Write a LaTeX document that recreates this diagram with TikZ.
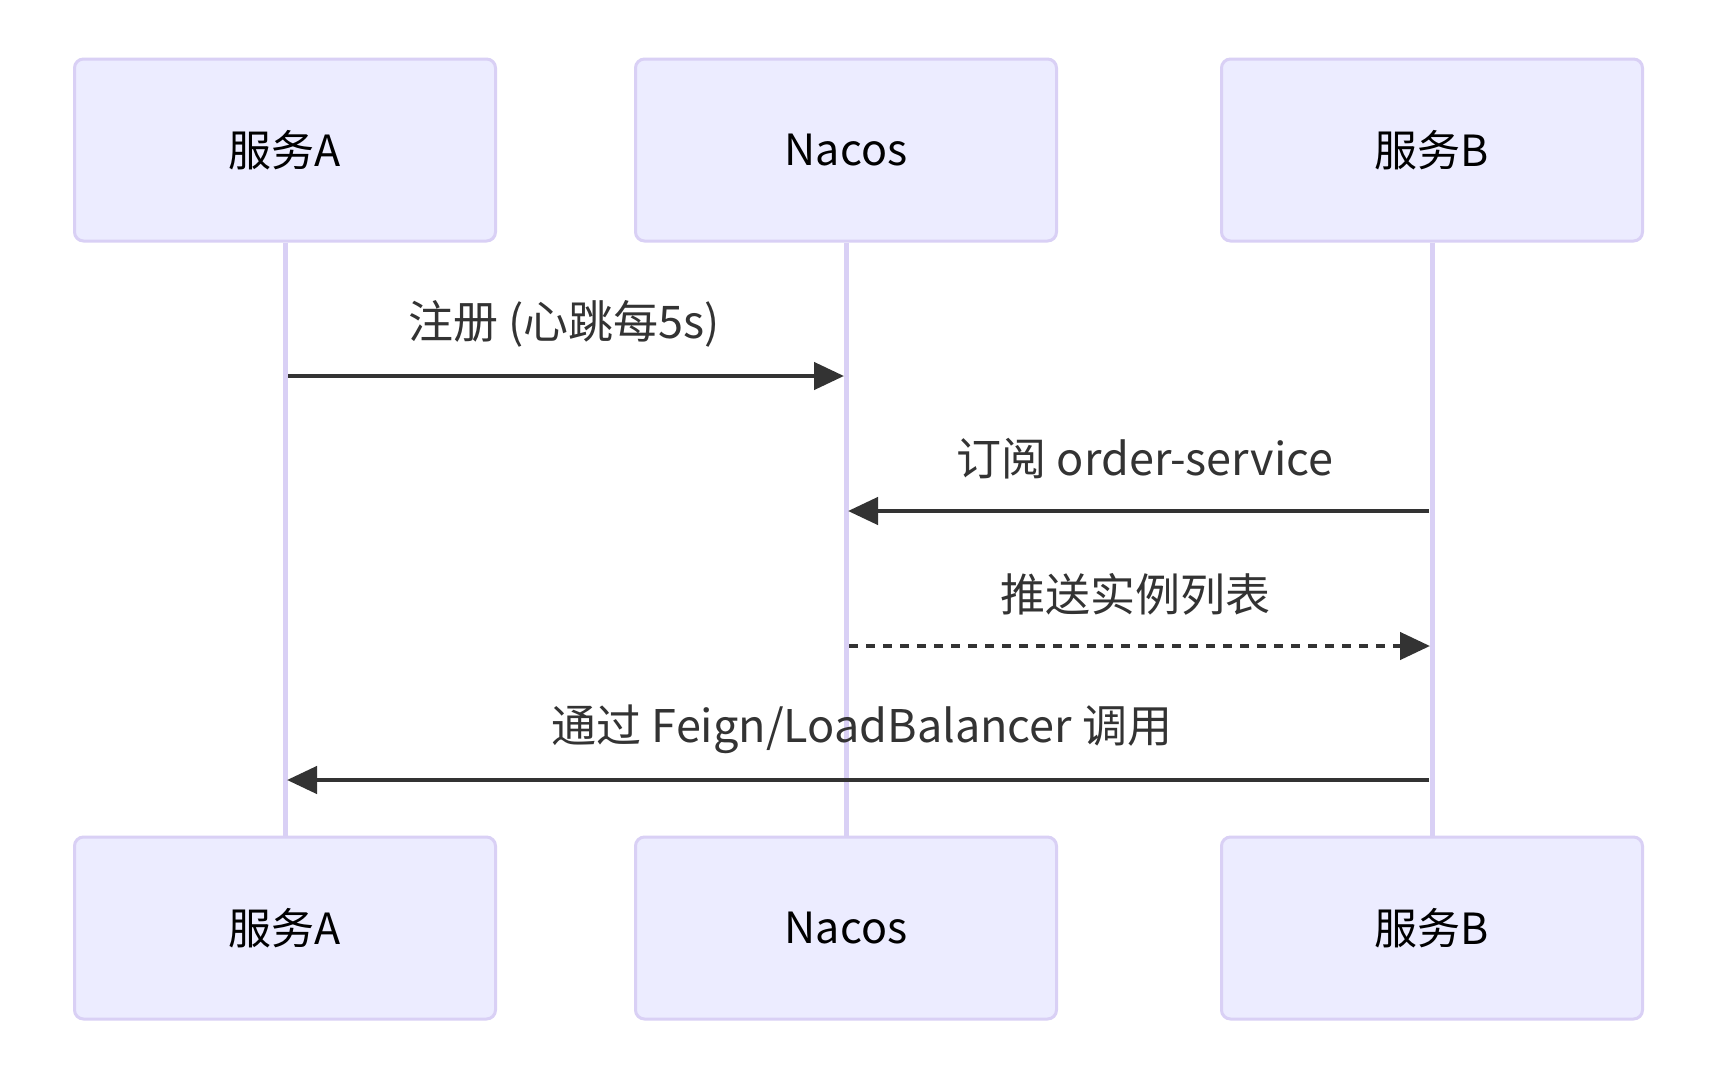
\documentclass[tikz,border=0pt]{standalone}
\usepackage{fontspec}
\setmainfont{Noto Sans CJK SC}
\usetikzlibrary{arrows.meta}
\definecolor{actfill}{HTML}{ECECFF}
\definecolor{actline}{HTML}{D9D0F5}
\definecolor{msgline}{HTML}{333333}
\tikzset{
  actor/.style={draw=actline, fill=actfill, line width=3pt, rounded corners=9pt,
    minimum width=421pt, minimum height=182pt, inner sep=0pt,
    font=\fontsize{43pt}{50pt}\selectfont, text=black},
  life/.style={draw=actline, line width=5pt},
  msg/.style={draw=msgline, line width=4.5pt, -{Triangle[length=30pt,width=27pt]}},
  dotmsg/.style={msg, dash pattern=on 9pt off 8pt},
  lbl/.style={font=\fontsize{45pt}{52pt}\selectfont, text=msgline, inner sep=0pt}
}
\begin{document}
\begin{tikzpicture}[x=1pt,y=-1pt]
\useasboundingbox (0,0) rectangle (1733,1087);
\fill[white] (0,0) rectangle (1733,1087);
% top actors
\node[actor] (a1) at (285,150) {服务A};
\node[actor] (n1) at (846,150) {Nacos};
\node[actor] (b1) at (1432,150) {服务B};
% bottom actors
\node[actor] (a2) at (285,928) {服务A};
\node[actor] (n2) at (846,928) {Nacos};
\node[actor] (b2) at (1432,928) {服务B};
% lifelines
\draw[life] (a1.south) -- (a2.north);
\draw[life] (n1.south) -- (n2.north);
\draw[life] (b1.south) -- (b2.north);
% messages
\coordinate (m1s) at (a1.south |- 0,376);
\coordinate (m1e) at (n1.south |- 0,376);
\draw[msg] ([xshift=3pt]m1s) -- ([xshift=-2pt]m1e);
\node[lbl] (l1) at (564,324) {注册 (心跳每5s)};

\coordinate (m2s) at (b1.south |- 0,511);
\coordinate (m2e) at (n1.south |- 0,511);
\draw[msg] ([xshift=-3pt]m2s) -- ([xshift=2pt]m2e);
\node[lbl] (l2) at (1145,459) {订阅 order-service};

\coordinate (m3s) at (n1.south |- 0,646);
\coordinate (m3e) at (b1.south |- 0,646);
\draw[dotmsg] ([xshift=3pt]m3s) -- ([xshift=-2pt]m3e);
\node[lbl] (l3) at (1135,594) {推送实例列表};

\coordinate (m4s) at (b1.south |- 0,780);
\coordinate (m4e) at (a1.south |- 0,780);
\draw[msg] ([xshift=-3pt]m4s) -- ([xshift=2pt]m4e);
\node[lbl] (l4) at (862,729) {通过 Feign/LoadBalancer 调用};
\end{tikzpicture}
\end{document}
